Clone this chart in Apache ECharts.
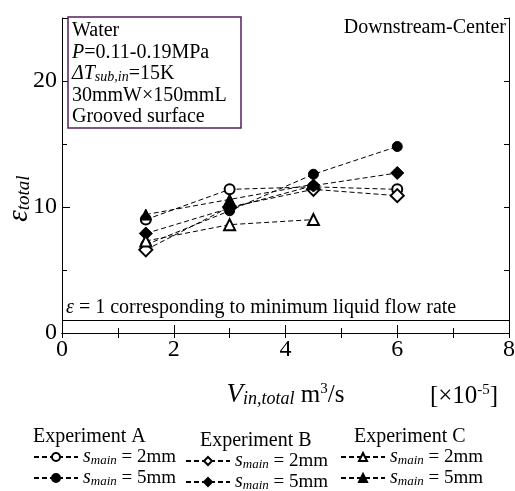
<!DOCTYPE html>
<html>
<head>
  <meta charset="utf-8">
  <title>Downstream-Center</title>
  <script src="https://cdn.jsdelivr.net/npm/echarts@6/dist/echarts.min.js"></script>
  <style>
    html, body { margin: 0; padding: 0; background: #fff; }
    #main { width: 515px; height: 491px; }
  </style>
</head>
<body>
  <div id="main"></div>
  <script>
    // flow rate V_in,total [x10^-5 m3/s]
    var xFlow = [1.5, 3, 4.5, 6];
    // epsilon_total
    var expA2 = [9.0, 11.4, 11.6, 11.4];
    var expA5 = [7.0, 9.7, 12.6, 14.8];
    var expB2 = [6.6, 10.0, 11.4, 10.9];
    var expB5 = [7.9, 9.9, 11.7, 12.7];
    var expC2 = [7.3, 8.6, 9.0];
    var expC5 = [9.4, 10.6, 11.8];

    var serif = 'Liberation Serif';
    var chart = echarts.init(document.getElementById('main'));

    function pairs(vals) {
      return vals.map(function (v, i) { return [xFlow[i], v]; });
    }

    function mkSeries(name, vals, symbol, size) {
      return {
        name: name,
        type: 'line',
        data: pairs(vals),
        symbol: symbol,
        symbolSize: size,
        lineStyle: { color: '#000', width: 1, type: [5, 3] },
        itemStyle: { color: '#000', borderColor: '#000', borderWidth: 1 },
        emphasis: { disabled: true },
        z: 3
      };
    }

    var series = [
      mkSeries('A 2mm', expA2, 'emptyCircle', 10),
      mkSeries('A 5mm', expA5, 'circle', 10),
      mkSeries('B 2mm', expB2, 'emptyDiamond', 13),
      mkSeries('B 5mm', expB5, 'diamond', 13),
      mkSeries('C 2mm', expC2, 'emptyTriangle', 11),
      mkSeries('C 5mm', expC5, 'triangle', 11)
    ];
    series[0].markLine = {
      silent: true,
      symbol: 'none',
      label: { show: false },
      lineStyle: { color: '#000', type: 'solid', width: 1 },
      data: [{ yAxis: 1 }]
    };

    var legendRich = {
      s: { fontFamily: serif, fontStyle: 'italic', fontSize: 20, lineHeight: 20 },
      sub: { fontFamily: serif, fontStyle: 'italic', fontSize: 13, lineHeight: 8, verticalAlign: 'bottom' },
      t: { fontFamily: serif, fontSize: 19, lineHeight: 20 }
    };
    function mkLegend(names, left, top) {
      return {
        data: names,
        orient: 'vertical',
        left: left,
        top: top,
        height: 60,
        padding: 0,
        itemWidth: 44,
        itemHeight: 10,
        itemGap: 1,
        selectedMode: false,
        textStyle: { color: '#000', fontFamily: serif, fontSize: 19, rich: legendRich },
        formatter: function (name) {
          return '{s|s}{sub|main}{t| = ' + name.split(' ')[1] + '}';
        }
      };
    }

    function label(text, x, y, align) {
      return {
        type: 'text',
        x: x,
        y: y,
        style: {
          text: text,
          fontFamily: serif,
          fontSize: 20,
          fill: '#000',
          align: align || 'left',
          verticalAlign: 'middle'
        }
      };
    }

    var option = {
      animation: false,
      backgroundColor: '#fff',
      textStyle: { fontFamily: serif, color: '#000' },
      grid: { left: 62, right: 6, top: 18, bottom: 158, outerBoundsMode: 'none', containLabel: false },
      legend: [
        mkLegend(['A 2mm', 'A 5mm'], 33, 447),
        mkLegend(['B 2mm', 'B 5mm'], 185, 451),
        mkLegend(['C 2mm', 'C 5mm'], 340, 447)
      ],
      xAxis: [{
        type: 'value', position: 'bottom', min: 0, max: 8, interval: 2,
        axisLine: { lineStyle: { color: '#000', width: 1 } },
        axisTick: { inside: true, length: 8, lineStyle: { color: '#000' } },
        minorTick: { show: true, splitNumber: 2, length: 5, lineStyle: { color: '#000' } },
        splitLine: { show: false },
        axisLabel: { fontFamily: serif, fontSize: 24, color: '#000', margin: 5 },
        name: '{v|V}{sub|in,total}{t| m}{sup|3}{t|/s}',
        nameLocation: 'middle',
        nameGap: 49,
        nameTextStyle: {
          rich: {
            v: { fontFamily: serif, fontStyle: 'italic', fontSize: 27, lineHeight: 26 },
            sub: { fontFamily: serif, fontStyle: 'italic', fontSize: 18, lineHeight: 11, verticalAlign: 'bottom' },
            t: { fontFamily: serif, fontSize: 25, lineHeight: 26 },
            sup: { fontFamily: serif, fontSize: 15, lineHeight: 14, verticalAlign: 'top' }
          }
        }
      }, {
        type: 'value', position: 'top', min: 0, max: 8, interval: 1,
        axisLine: { lineStyle: { color: '#000', width: 1 } },
        axisTick: { inside: true, length: 5, lineStyle: { color: '#000' } },
        axisLabel: { show: false },
        splitLine: { show: false }
      }],
      yAxis: [{
        type: 'value', position: 'left', min: 0, max: 25, interval: 5,
        axisLine: { show: true, lineStyle: { color: '#000', width: 1 } },
        axisTick: { inside: true, length: 5, lineStyle: { color: '#000' } },
        splitLine: { show: false },
        axisLabel: {
          fontFamily: serif, fontSize: 24, color: '#000', margin: 5,
          formatter: function (v) { return v % 10 === 0 ? String(v) : ''; }
        },
        name: '{e|ε}{sub|total}',
        nameLocation: 'middle',
        nameRotate: 90,
        nameGap: 29,
        nameMoveOverlap: false,
        nameTextStyle: {
          padding: [0, 46, 0, 0],
          rich: {
            e: { fontFamily: serif, fontStyle: 'italic', fontSize: 29, lineHeight: 28 },
            sub: { fontFamily: serif, fontStyle: 'italic', fontSize: 19, lineHeight: 12, verticalAlign: 'bottom' }
          }
        }
      }, {
        type: 'value', position: 'left', min: 0, max: 25, interval: 10,
        axisLine: { show: false },
        axisTick: { inside: true, length: 8, lineStyle: { color: '#000' } },
        axisLabel: { show: false },
        splitLine: { show: false }
      }, {
        type: 'value', position: 'right', min: 0, max: 25, interval: 5,
        axisLine: { show: true, lineStyle: { color: '#000', width: 1 } },
        axisTick: { inside: true, length: 5, lineStyle: { color: '#000' } },
        axisLabel: { show: false },
        splitLine: { show: false }
      }],
      graphic: [
        {
          type: 'rect',
          shape: { x: 68, y: 17, width: 173, height: 111 },
          style: { fill: '#fff', stroke: '#5a1e5c', lineWidth: 1.5 },
          z: 5
        },
        {
          type: 'text',
          x: 72,
          y: 20,
          z: 6,
          style: {
            text: 'Water\n{i|P}=0.11-0.19MPa\n{i|ΔT}{sub|sub,in}=15K\n30mmW×150mmL\nGrooved surface',
            fontFamily: serif,
            fontSize: 20,
            lineHeight: 21.5,
            fill: '#000',
            rich: {
              i: { fontFamily: serif, fontStyle: 'italic', fontSize: 20, lineHeight: 21.5 },
              sub: { fontFamily: serif, fontStyle: 'italic', fontSize: 14, lineHeight: 10, verticalAlign: 'bottom' }
            }
          }
        },
        label('Downstream-Center', 506, 28, 'right'),
        {
          type: 'text',
          x: 66,
          y: 308,
          style: {
            text: '{i|ε} = 1 corresponding to minimum liquid flow rate',
            fontFamily: serif, fontSize: 20, fill: '#000', verticalAlign: 'middle',
            rich: { i: { fontFamily: serif, fontStyle: 'italic', fontSize: 20 } }
          }
        },
        {
          type: 'text',
          x: 464,
          y: 396,
          style: {
            text: '[×10{sup|-5}]',
            fontFamily: serif, fontSize: 25, fill: '#000', align: 'center', verticalAlign: 'middle',
            lineHeight: 26,
            rich: { sup: { fontFamily: serif, fontSize: 15, lineHeight: 14, verticalAlign: 'top' } }
          }
        },
        label('Experiment A', 33, 437),
        label('Experiment B', 200, 441),
        label('Experiment C', 354, 437)
      ],
      series: series
    };

    chart.setOption(option);
  </script>
</body>
</html>
